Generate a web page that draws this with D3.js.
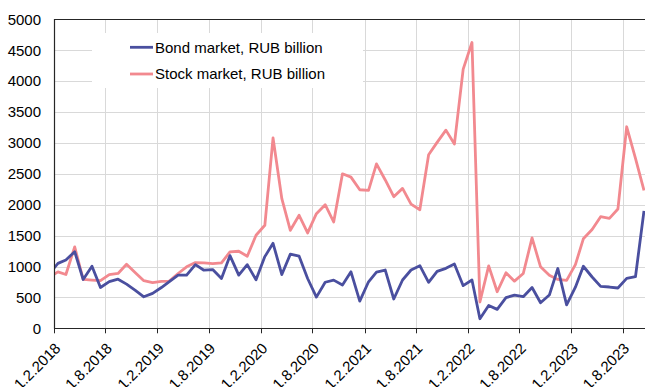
<!DOCTYPE html>
<html>
<head>
<meta charset="utf-8">
<script src="https://cdn.jsdelivr.net/npm/d3@7"></script>
<style>
  html, body { margin: 0; padding: 0; background: #fff; }
  svg { display: block; font-family: "Liberation Sans", Arial, sans-serif; }
</style>
</head>
<body>
<svg id="chart" width="645" height="387"></svg>
<script>
// Monthly trading volumes, January 2018 – October 2023 (one value per month)
const firstMonth = "2018-01";
const bondMarket = [
  880, 1050, 1105, 1240, 790, 1005, 660, 755, 795, 715, 615, 510,
  565, 660, 755, 860, 860, 1030, 940, 950, 806, 1175, 860, 1030,
  785, 1160, 1375, 870, 1200, 1167, 806, 505, 745, 780, 700, 914,
  441, 753, 910, 943, 474, 782, 943, 1013, 744, 922, 970, 1040,
  690, 782, 155, 370, 306, 495, 538, 511, 661, 414, 538, 968,
  380, 665, 1004, 830, 679, 668, 652, 808, 835, 1900
];
const stockMarket = [
  820, 914, 870, 1317, 790, 780, 770, 870, 887, 1037, 900, 770,
  740, 760, 763, 887, 995, 1064, 1059, 1048, 1059, 1236, 1247, 1167,
  1505, 1667, 3080, 2097, 1586, 1828, 1543, 1855, 2000, 1720, 2500, 2446,
  2242, 2231, 2660, 2400, 2129, 2264, 2010, 1919, 2808, 3008, 3207, 2981,
  4193, 4625, 425, 1010, 591, 898, 763, 887, 1462, 995, 860, 790,
  775, 1030, 1448, 1600, 1806, 1779, 1930, 3261, 2750, 2230
];
const seriesNames = ["Bond market, RUB billion", "Stock market, RUB billion"];
const xTickLabels = [
  "1.2.2018", "1.8.2018", "1.2.2019", "1.8.2019", "1.2.2020", "1.8.2020",
  "1.2.2021", "1.8.2021", "1.2.2022", "1.8.2022", "1.2.2023", "1.8.2023"
];
const yTicks = [0, 500, 1000, 1500, 2000, 2500, 3000, 3500, 4000, 4500, 5000];

const colors = { bond: "#4a4f9f", stock: "#f2898f" };

const svg = d3.select("#chart");

// Plot frame; the right part of the time axis runs past the visible area
const plotLeft = 54, plotTop = 19.3, plotBottom = 328.3, plotRight = 657.3;

const parseTick = s => { const [d, m, yr] = s.split(".").map(Number); return new Date(yr, m - 1, d); };
const tickDates = xTickLabels.map(parseTick);

const x = d3.scaleTime()
  .domain([new Date(2018, 1, 1), new Date(2023, 11, 1)])
  .range([plotLeft, plotRight]);
const y = d3.scaleLinear().domain([0, 5000]).range([plotBottom, plotTop]);

// Each monthly value is placed in the middle of its month
const [fy, fm] = firstMonth.split("-").map(Number);
const dates = bondMarket.map((_, i) => new Date(fy, fm - 1 + i, 15));

// Grid
const grid = svg.append("g").attr("stroke", "#d9d9d9").attr("stroke-width", 1);
grid.selectAll("line.h").data(yTicks.filter(v => v > 0 && v < 5000)).join("line")
  .attr("x1", plotLeft).attr("x2", 645)
  .attr("y1", d => Math.round(y(d)) + 0.5).attr("y2", d => Math.round(y(d)) + 0.5);
grid.selectAll("line.v").data(tickDates.slice(1)).join("line")
  .attr("x1", d => Math.round(x(d)) + 0.5).attr("x2", d => Math.round(x(d)) + 0.5)
  .attr("y1", plotTop).attr("y2", plotBottom);

// Legend panel (drawn over the grid, under the data)
svg.append("rect").attr("x", 92).attr("y", 33).attr("width", 271).attr("height", 55).attr("fill", "#fff");

// Lines, clipped to the plot frame
svg.append("clipPath").attr("id", "plot-clip")
  .append("rect").attr("x", plotLeft).attr("y", plotTop - 5)
  .attr("width", plotRight - plotLeft).attr("height", plotBottom - plotTop + 5);

const line = d3.line().x((d, i) => x(dates[i])).y(d => y(d));
const lines = svg.append("g").attr("clip-path", "url(#plot-clip)");
lines.append("path").datum(stockMarket)
  .attr("fill", "none").attr("stroke", colors.stock).attr("stroke-width", 2.8)
  .attr("stroke-linejoin", "round").attr("d", line);
lines.append("path").datum(bondMarket)
  .attr("fill", "none").attr("stroke", colors.bond).attr("stroke-width", 2.8)
  .attr("stroke-linejoin", "round").attr("d", line);

// Frame and axes
const axisColor = "#262626";
svg.append("line").attr("x1", plotLeft).attr("x2", 645).attr("y1", 19.5).attr("y2", 19.5)
  .attr("stroke", axisColor).attr("stroke-width", 1);
svg.append("line").attr("x1", plotLeft + 0.5).attr("x2", plotLeft + 0.5).attr("y1", 19).attr("y2", plotBottom + 0.5)
  .attr("stroke", axisColor).attr("stroke-width", 1.2);
svg.append("line").attr("x1", plotLeft).attr("x2", 645).attr("y1", 328.5).attr("y2", 328.5)
  .attr("stroke", axisColor).attr("stroke-width", 1.2);

// Y axis labels
svg.append("g").selectAll("text").data(yTicks).join("text")
  .attr("x", 41).attr("y", d => y(d) + 5.3)
  .attr("text-anchor", "end").attr("font-size", 15).attr("fill", "#000")
  .text(d => d);

// X axis ticks and rotated labels
const xt = svg.append("g");
xt.selectAll("line").data(tickDates).join("line")
  .attr("x1", d => Math.round(x(d)) + 0.5).attr("x2", d => Math.round(x(d)) + 0.5)
  .attr("y1", plotBottom).attr("y2", plotBottom + 5)
  .attr("stroke", axisColor).attr("stroke-width", 1);
xt.selectAll("text").data(xTickLabels).join("text")
  .attr("transform", (d, i) => `translate(${x(tickDates[i]) + 7.5},${plotBottom + 21}) rotate(-45)`)
  .attr("text-anchor", "end").attr("font-size", 15).attr("fill", "#000")
  .text(d => d);

// Legend
const legend = svg.append("g");
const legendRows = [
  { name: seriesNames[0], color: colors.bond, y: 47.3 },
  { name: seriesNames[1], color: colors.stock, y: 74 }
];
legendRows.forEach(r => {
  legend.append("line").attr("x1", 130).attr("x2", 153).attr("y1", r.y).attr("y2", r.y)
    .attr("stroke", r.color).attr("stroke-width", 2.8);
  legend.append("text").attr("x", 155).attr("y", r.y + 5.3)
    .attr("font-size", 15).attr("fill", "#000").text(r.name);
});
</script>
</body>
</html>
